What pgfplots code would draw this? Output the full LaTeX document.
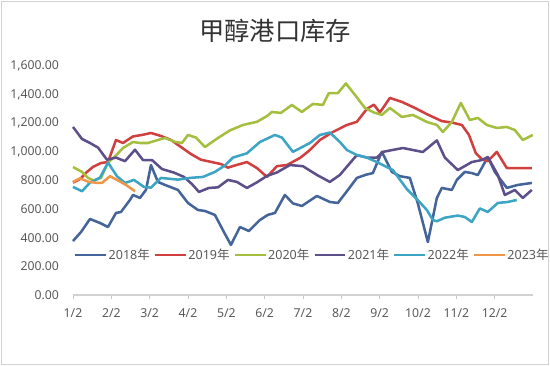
\documentclass[border=0pt]{standalone}
\usepackage{pgfplots}
\pgfplotsset{compat=1.18}
\usepackage{fontspec}
\setmainfont{Noto Sans}
\newfontfamily\cjk{Noto Sans CJK SC}
\definecolor{c18}{HTML}{44649A}
\definecolor{c19}{HTML}{D0403F}
\definecolor{c20}{HTML}{A4BF3E}
\definecolor{c21}{HTML}{5D4F8A}
\definecolor{c22}{HTML}{3DA5C4}
\definecolor{c23}{HTML}{F0964A}
\definecolor{txt}{HTML}{595959}
\begin{document}
\begin{tikzpicture}
\path[use as bounding box] (0,0) rectangle (412.5pt,274.5pt);
\draw[gray!35, line width=0.8pt] (0.8pt,0.8pt) rectangle (411.7pt,273.7pt);
\node[text=black!80] at (206.25pt,251.25pt) {\cjk\fontsize{19}{19}\selectfont 甲醇港口库存};
\begin{axis}[
  at={(54.75pt,53.25pt)}, anchor=south west,
  scale only axis, width=345pt, height=171.75pt,
  xmin=1, xmax=13, ymin=0, ymax=1600,
  axis lines*=left,
  x axis line style={gray!35, line width=0.8pt},
  y axis line style={draw=none},
  xtick={1,...,12},
  xticklabels={1/2,2/2,3/2,4/2,5/2,6/2,7/2,8/2,9/2,10/2,11/2,12/2},
  ytick={0,200,...,1600},
  tick align=outside,
  major tick length=3pt,
  xtick style={gray!45, line width=0.6pt},
  ytick style={draw=none},
  /pgf/number format/.cd, fixed, fixed zerofill, precision=2, 1000 sep={,}, assume math mode=true,
  /pgfplots/.cd,
  ticklabel style={font=\fontsize{9.2}{10}\selectfont, text=txt},
  yticklabel style={xshift=-4pt},
  xticklabel style={yshift=-4pt},
  legend columns=6,
  legend style={at={(0.002,0.175)}, anchor=west, draw=none, fill=none,
    inner sep=0pt, font=\fontsize{9.4}{11}\selectfont, text=txt,
    nodes={inner xsep=1pt, inner ysep=0pt},
    /tikz/every even column/.append style={column sep=2pt}},
  legend image code/.code={\draw[#1] (0pt,0pt) -- (23pt,0pt);},
  every axis plot/.append style={line width=1.9pt, line join=round},
  clip=false,
]
\addplot[c18] coordinates {(1.000,377) (1.209,440) (1.443,531) (1.704,503) (1.913,475) (2.121,573) (2.252,580) (2.486,664) (2.565,699) (2.747,678) (2.904,734) (3.034,908) (3.216,790) (3.399,769) (3.738,734) (3.999,643) (4.259,594) (4.442,587) (4.703,559) (4.937,440) (5.120,350) (5.355,475) (5.589,447) (5.876,524) (6.085,560) (6.267,573) (6.528,699) (6.737,640) (6.971,622) (7.362,692) (7.701,650) (7.910,643) (8.171,734) (8.405,818) (8.640,840) (8.823,852) (9.057,1000) (9.318,860) (9.527,830) (9.787,818) (9.996,640) (10.257,370) (10.492,678) (10.622,748) (10.883,734) (11.013,804) (11.222,860) (11.404,852) (11.561,838) (11.821,964) (12.004,860) (12.317,748) (12.603,769) (12.969,783)};
\addlegendentry{2018{\cjk 年}}
\addplot[c19] coordinates {(1.000,785) (1.183,810) (1.365,860) (1.522,895) (1.730,922) (1.913,929) (2.121,1083) (2.304,1062) (2.565,1108) (2.799,1118) (3.034,1132) (3.295,1111) (3.555,1083) (3.816,1034) (4.077,985) (4.338,945) (4.598,930) (4.859,915) (5.042,890) (5.224,905) (5.537,929) (5.798,887) (6.059,825) (6.319,900) (6.580,908) (6.919,957) (7.180,1013) (7.441,1083) (7.780,1139) (8.145,1188) (8.405,1210) (8.666,1300) (8.849,1330) (9.005,1275) (9.266,1377) (9.579,1349) (9.918,1307) (10.257,1260) (10.622,1215) (10.883,1205) (11.143,1188) (11.326,1120) (11.509,990) (11.665,950) (11.821,935) (12.056,1000) (12.317,887) (12.969,887)};
\addlegendentry{2019{\cjk 年}}
\addplot[c20] coordinates {(1.000,894) (1.235,860) (1.391,818) (1.548,800) (1.730,818) (1.913,925) (2.121,975) (2.304,1027) (2.565,1069) (2.747,1062) (2.956,1062) (3.216,1083) (3.399,1097) (3.660,1070) (3.842,1062) (3.999,1118) (4.207,1100) (4.442,1034) (4.781,1097) (5.094,1150) (5.433,1188) (5.798,1210) (6.059,1250) (6.189,1279) (6.424,1272) (6.710,1328) (6.971,1279) (7.258,1335) (7.519,1328) (7.675,1411) (7.910,1411) (8.119,1478) (8.379,1390) (8.614,1307) (8.849,1275) (9.057,1258) (9.266,1307) (9.579,1244) (9.866,1258) (10.231,1209) (10.492,1188) (10.648,1139) (10.883,1209) (11.117,1342) (11.352,1223) (11.561,1237) (11.795,1188) (12.056,1167) (12.317,1174) (12.525,1153) (12.734,1083) (12.995,1118)};
\addlegendentry{2020{\cjk 年}}
\addplot[c21] coordinates {(1.000,1174) (1.235,1090) (1.443,1062) (1.652,1030) (1.887,945) (2.121,960) (2.356,935) (2.617,1015) (2.825,943) (3.060,943) (3.321,880) (3.634,855) (3.894,825) (4.103,775) (4.285,720) (4.546,748) (4.781,752) (5.042,804) (5.276,790) (5.537,748) (5.798,787) (6.059,832) (6.319,856) (6.658,908) (6.997,900) (7.362,839) (7.701,790) (7.962,839) (8.405,978) (8.666,960) (8.927,960) (9.083,1000) (9.605,1027) (10.126,999) (10.492,1080) (10.700,960) (11.039,873) (11.404,929) (11.665,943) (11.821,964) (12.082,839) (12.265,699) (12.525,734) (12.734,678) (12.969,734)};
\addlegendentry{2021{\cjk 年}}
\addplot[c22] coordinates {(1.000,755) (1.235,725) (1.443,785) (1.704,820) (1.913,925) (2.147,830) (2.356,783) (2.591,804) (2.851,755) (3.034,750) (3.295,818) (3.738,806) (4.051,818) (4.390,825) (4.703,860) (4.963,905) (5.172,960) (5.537,990) (5.876,1069) (6.267,1118) (6.450,1100) (6.737,1000) (7.180,1062) (7.441,1118) (7.701,1135) (7.962,1069) (8.145,1013) (8.405,978) (8.666,960) (8.927,929) (9.083,908) (9.344,873) (9.709,740) (9.970,670) (10.231,594) (10.387,524) (10.492,515) (10.700,540) (11.039,555) (11.222,545) (11.404,510) (11.613,605) (11.821,580) (12.082,643) (12.343,650) (12.577,664)};
\addlegendentry{2022{\cjk 年}}
\addplot[c23] coordinates {(1.000,790) (1.183,815) (1.391,792) (1.626,783) (1.756,783) (1.965,830) (2.147,804) (2.382,769) (2.617,725)};
\addlegendentry{2023{\cjk 年}}
\end{axis}
\end{tikzpicture}
\end{document}
